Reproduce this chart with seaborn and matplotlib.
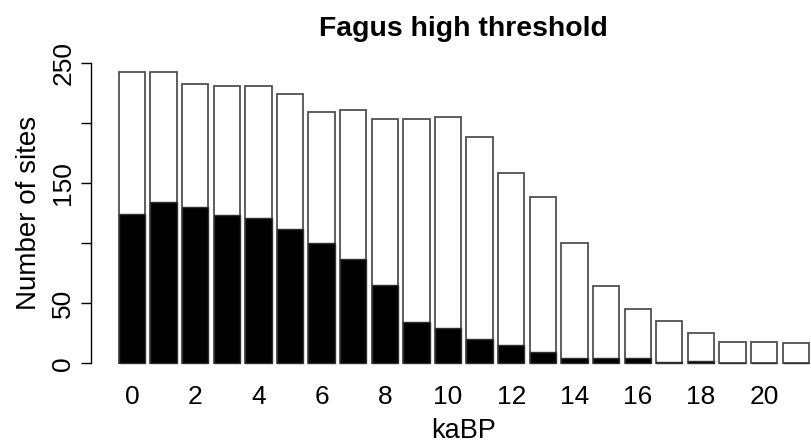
import matplotlib
matplotlib.use("Agg")
import matplotlib.pyplot as plt
import seaborn as sns
import pandas as pd

kabp = list(range(22))
total_sites = [242, 242, 232, 231, 231, 224, 209, 211, 203, 203, 205, 188,
               158, 138, 100, 64, 45, 35, 25, 18, 18, 17]
present_sites = [124, 134, 130, 123, 121, 112, 100, 87, 65, 34, 29, 20,
                 15, 9, 4, 4, 4, 1, 2, 0, 0, 0]
y_ticks = [0, 50, 100, 150, 200, 250]
y_tick_labels = ["0", "50", "", "150", "", "250"]
x_label_every = 2

sns.set_style("white")
plt.rcParams["font.family"] = ["Liberation Sans", "DejaVu Sans"]
plt.rcParams["text.color"] = "black"
plt.rcParams["axes.labelcolor"] = "black"
plt.rcParams["xtick.color"] = "black"
plt.rcParams["ytick.color"] = "black"

df = pd.DataFrame({"kaBP": [str(k) for k in kabp],
                   "total": total_sites,
                   "present": present_sites})

fig = plt.figure(figsize=(8.12, 4.45), dpi=100)
ax = fig.add_axes([0.1122, 0.1566, 0.918, 0.7294])

bw = 1 / 1.2
sns.barplot(data=df, x="kaBP", y="total", color="white", edgecolor="#505050",
            linewidth=1.3, width=bw, saturation=1, ax=ax, zorder=2)
sns.barplot(data=df, x="kaBP", y="present", color="black", edgecolor="#303030",
            linewidth=1.0, width=bw, saturation=1, ax=ax, zorder=3)

ax.set_xlim(-1.29, 22.29)
ax.set_ylim(-10, 260)

for s in ["top", "right", "bottom"]:
    ax.spines[s].set_visible(False)
ax.spines["left"].set_bounds(0, 250)
ax.spines["left"].set_color("black")
ax.spines["left"].set_linewidth(1.0)

ax.set_yticks(y_ticks)
ax.set_yticklabels(y_tick_labels, rotation=90, va="center", ha="center",
                   fontsize=19)
ax.tick_params(axis="y", direction="out", length=7, width=1.0, color="black",
               labelcolor="black", pad=13, left=True)

ax.set_xticks(kabp[::x_label_every])
ax.set_xticklabels([str(k) for k in kabp[::x_label_every]], fontsize=19)
ax.tick_params(axis="x", length=0, pad=7, labelcolor="black")

ax.set_xlabel("kaBP", fontsize=19.5, labelpad=6.5, color="black")
ax.set_ylabel("Number of sites", fontsize=20, labelpad=7, color="black")
ax.set_title("Fagus high threshold", fontsize=20.4, fontweight="bold",
             pad=10.5, color="black")
ax.grid(False)

fig.savefig("out.png", dpi=100, facecolor="white")
